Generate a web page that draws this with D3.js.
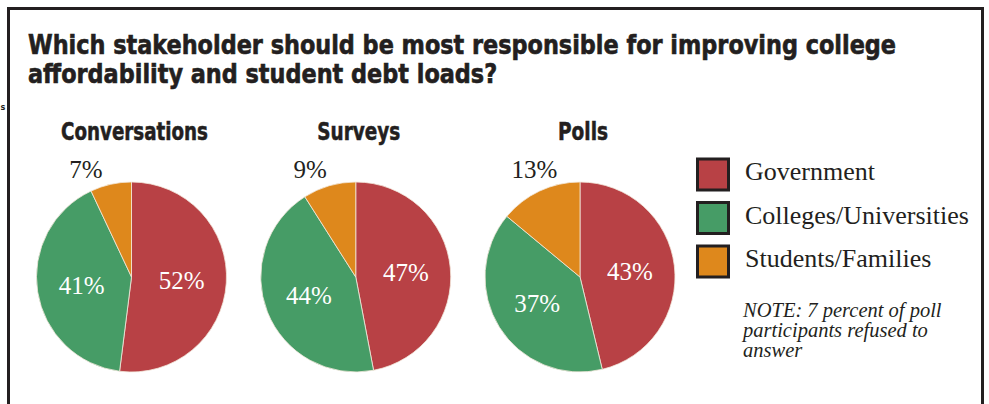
<!DOCTYPE html>
<html>
<head>
<meta charset="utf-8">
<script src="https://cdn.jsdelivr.net/npm/d3@7"></script>
<style>
  html, body { margin: 0; padding: 0; background: #fff; }
  svg { display: block; }
</style>
</head>
<body>
<svg id="chart" width="989" height="404"></svg>
<script>
// ---- Data ----
const titleLines = ["Which stakeholder should be most responsible for improving college",
                    "affordability and student debt loads?"];
const categories = ["Government", "Colleges/Universities", "Students/Families"];
const colors = ["#b84145", "#469c66", "#de881c"];
const panels = ["Conversations", "Surveys", "Polls"];
const conversations = [52, 41, 7];
const surveys = [47, 44, 9];
const polls = [43, 37, 13];
const noteLines = ["NOTE: 7 percent of poll", "participants refused to", "answer"];

const seriesList = [conversations, surveys, polls];
const ink = "#231f20";

const svg = d3.select("#chart");
const W = 989, H = 404;

// frame
svg.append("path")
  .attr("d", `M8.5,${H} L8.5,8.5 L982.5,8.5 L982.5,${H}`)
  .attr("fill", "none").attr("stroke", ink).attr("stroke-width", 3);

// small fragment letter at far left (as in the source)
svg.append("text").attr("x", 0.5).attr("y", 110)
  .attr("font-family", "'DejaVu Sans Condensed', Arial, sans-serif").attr("font-weight", "bold")
  .attr("font-size", 9).attr("fill", ink).text("s");

// title
const titleFont = "'Liberation Sans Narrow', 'DejaVu Sans Condensed', 'Liberation Sans', Arial, sans-serif";
const t1 = svg.append("text").attr("x", 28).attr("y", 53.5)
  .attr("font-family", titleFont).attr("font-weight", "bold").attr("font-size", 27)
  .attr("fill", ink).attr("stroke", ink).attr("stroke-width", 0.6).text(titleLines[0]);
const t2 = svg.append("text").attr("x", 28).attr("y", 82.5)
  .attr("font-family", titleFont).attr("font-weight", "bold").attr("font-size", 27)
  .attr("fill", ink).attr("stroke", ink).attr("stroke-width", 0.6).text(titleLines[1]);
const natural1 = t1.node().getComputedTextLength();
const ratio = 868 / natural1;
t1.attr("textLength", 868).attr("lengthAdjust", "spacingAndGlyphs");
t2.attr("textLength", t2.node().getComputedTextLength() * ratio).attr("lengthAdjust", "spacingAndGlyphs");

// pies
const x = d3.scalePoint().domain(panels).range([131.5, 580]);
const cy = 277;
const r = 95;
const color = d3.scaleOrdinal().domain(categories).range(colors);
const pie = d3.pie().sort(null).value(d => d.value);
const arc = d3.arc().innerRadius(0).outerRadius(r);
const labelArc = d3.arc().innerRadius(r * 0.53).outerRadius(r * 0.53);
const subtitleWidth = d3.scaleOrdinal().domain(panels).range([147, 83, 50]);

panels.forEach((name, i) => {
  const cx = x(name);
  const g = svg.append("g").attr("transform", `translate(${cx},${cy})`);
  const data = categories.map((c, k) => ({ cat: c, value: seriesList[i][k] }));
  const arcs = pie(data);

  // subtitle
  svg.append("text").attr("x", cx + 3).attr("y", 139.5).attr("text-anchor", "middle")
    .attr("font-family", titleFont).attr("font-weight", "bold").attr("font-size", 24)
    .attr("fill", ink).attr("stroke", ink).attr("stroke-width", 0.5)
    .attr("textLength", subtitleWidth(name)).attr("lengthAdjust", "spacingAndGlyphs")
    .text(name);

  g.selectAll("path").data(arcs).join("path")
    .attr("d", arc)
    .attr("fill", d => color(d.data.cat))
    .attr("stroke", "#f3e9dc").attr("stroke-width", 0.8);

  arcs.forEach((a, k) => {
    if (k < 2) {
      const [lx, ly] = labelArc.centroid(a);
      g.append("text").attr("x", lx).attr("y", ly).attr("dy", "0.35em")
        .attr("text-anchor", "middle")
        .attr("font-family", "'Liberation Serif', 'Times New Roman', serif")
        .attr("font-size", 25).attr("fill", "#fff").text(a.data.value + "%");
    } else {
      g.append("text").attr("x", -0.48 * r).attr("y", -r - 4)
        .attr("text-anchor", "middle")
        .attr("font-family", "'Liberation Serif', 'Times New Roman', serif")
        .attr("font-size", 25).attr("fill", ink).text(a.data.value + "%");
    }
  });
});

// legend
const legend = svg.append("g").attr("transform", "translate(696,157.5)");
const ly = d3.scalePoint().domain(categories).range([0, 87]);
categories.forEach(c => {
  legend.append("rect").attr("x", 1.5).attr("y", ly(c) + 1.5).attr("width", 31).attr("height", 31)
    .attr("fill", color(c)).attr("stroke", ink).attr("stroke-width", 3);
  legend.append("text").attr("x", 49).attr("y", ly(c) + 22.5)
    .attr("font-family", "'Liberation Serif', 'Times New Roman', serif")
    .attr("font-size", 26).attr("fill", ink).text(c);
});

// note
noteLines.forEach((t, i) => {
  svg.append("text").attr("x", 743).attr("y", 317 + i * 20)
    .attr("font-family", "'Liberation Serif', 'Times New Roman', serif")
    .attr("font-style", "italic").attr("font-size", 20.5).attr("fill", ink).text(t);
});
</script>
</body>
</html>
